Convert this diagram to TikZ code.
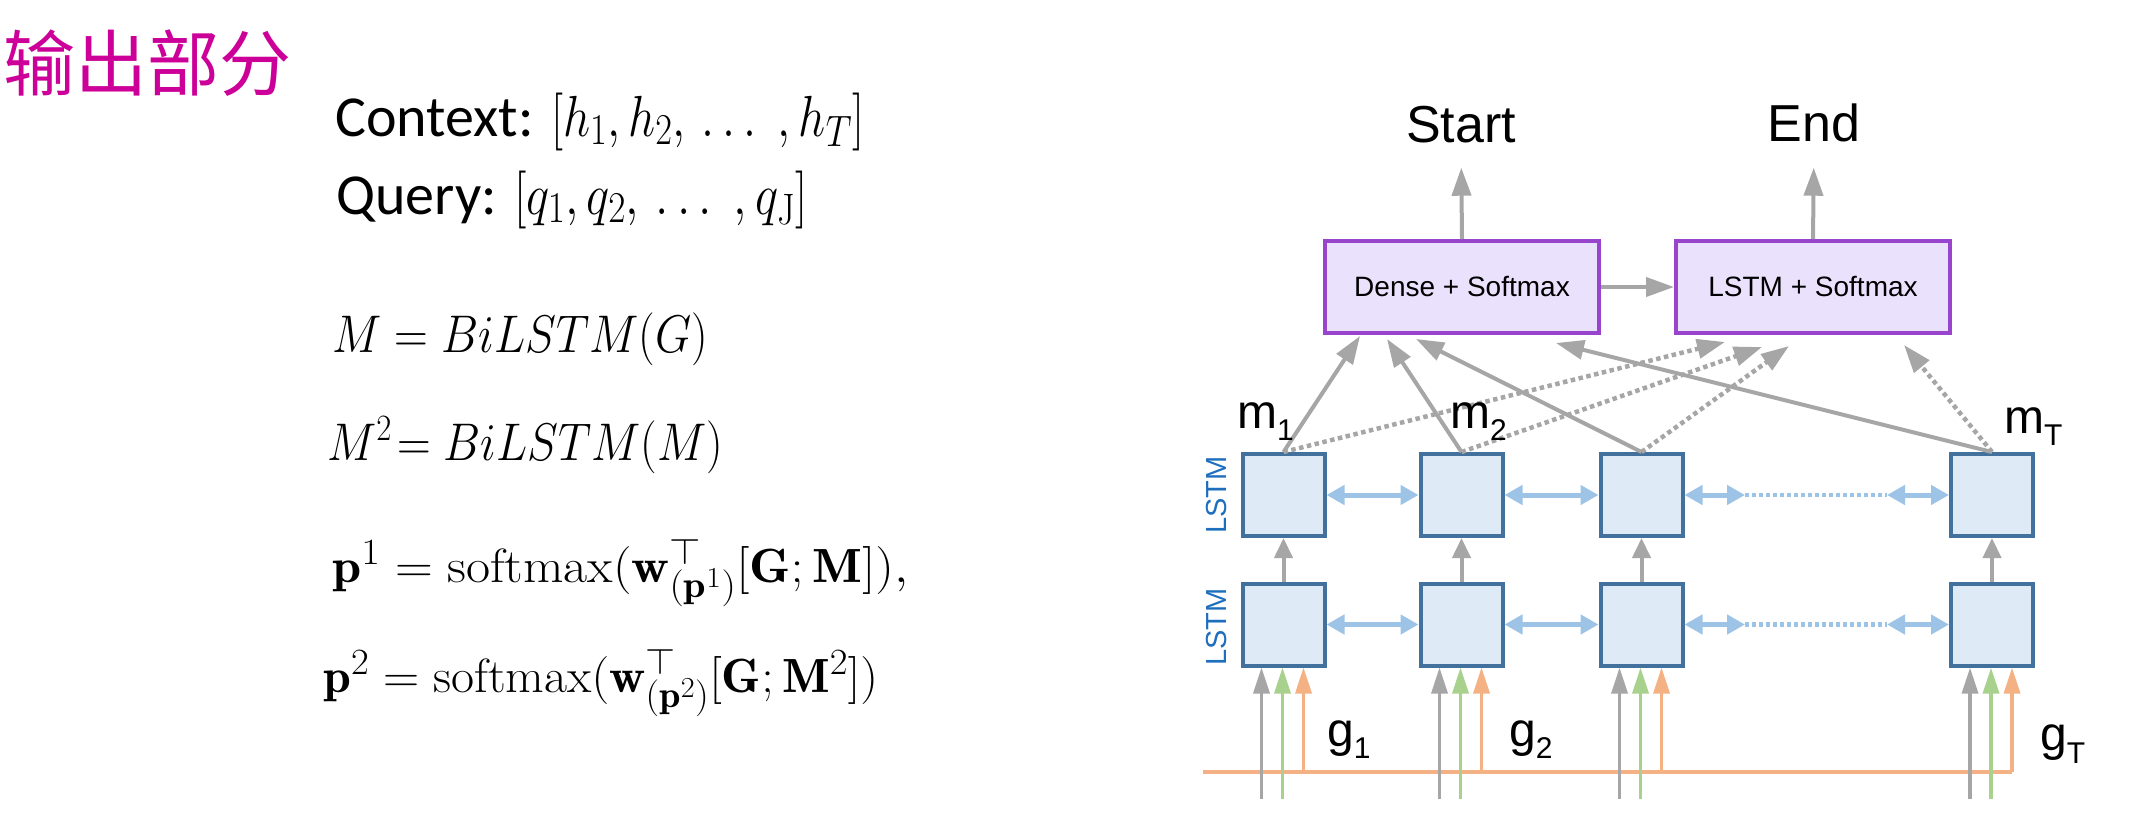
\RequirePackage{fix-cm}
\documentclass[tikz,border=0pt]{standalone}
\usepackage{amsmath}
\usepackage{graphicx}
\usepackage{fontspec}
\newfontfamily\cjk{Noto Sans CJK SC}
\newfontfamily\calib{Carlito}
\newfontfamily\hel{Liberation Sans}
\usetikzlibrary{arrows.meta,calc}
\DeclareMathSizes{48}{48}{37}{29}
\DeclareMathSizes{58}{58}{44}{34}
\definecolor{titlemag}{RGB}{204,0,153}
\definecolor{arrgray}{RGB}{166,166,166}
\definecolor{ingreen}{RGB}{169,209,142}
\definecolor{inorange}{RGB}{244,177,131}
\definecolor{lblue}{RGB}{157,195,230}
\definecolor{cellborder}{RGB}{65,113,156}
\definecolor{cellfill}{RGB}{222,235,247}
\definecolor{pborder}{RGB}{153,68,204}
\definecolor{pfill}{RGB}{234,225,253}
\definecolor{lstmblue}{RGB}{30,110,190}
\tikzset{
  cell/.style={draw=cellborder, fill=cellfill, line width=4pt, minimum width=82pt, minimum height=82pt, inner sep=0pt},
  pbox/.style={draw=pborder, fill=pfill, line width=4pt, minimum width=274pt, minimum height=92pt, inner sep=0pt, font=\hel\fontsize{28}{30}\selectfont},
  garrow/.style={draw=arrgray, line width=4pt, -{Triangle[length=28pt,width=19pt]}},
  gdot/.style={draw=arrgray, line width=4.5pt, dash pattern=on 4.5pt off 3.5pt, -{Triangle[length=28pt,width=19pt]}},
  uparrow/.style={draw=arrgray, line width=4pt, -{Triangle[length=20pt,width=18pt]}},
  barrow/.style={draw=lblue, line width=5pt, {Triangle[length=18pt,width=19pt]}-{Triangle[length=18pt,width=19pt]}},
  bdot/.style={draw=lblue, line width=4.5pt, dash pattern=on 4pt off 3pt},
  inarrow/.style={line width=3.5pt, -{Triangle[length=26pt,width=16pt]}},
  lbl/.style={anchor=base west, inner sep=0pt, font=\hel\fontsize{48}{50}\selectfont},
  txt/.style={anchor=base west, inner sep=0pt},
  lstmlab/.style={rotate=90, inner sep=0pt, text=lstmblue, font=\hel\fontsize{29}{30}\selectfont}
}
\newcommand{\subsc}[2][12pt]{\raisebox{-#1}{\fontsize{30}{30}\selectfont #2}}
\begin{document}
\begin{tikzpicture}[x=1pt,y=-1pt]
\useasboundingbox (0,0) rectangle (2135,830);

% ---------- left text ----------
\node[txt, text=titlemag] (title) at (3,90) {\cjk\fontsize{72}{80}\selectfont 输出部分};
\node[txt] (ctx) at (335,136) {\calib\fontsize{58}{64}\selectfont Context: \resizebox{313pt}{\height}{$[h_1,h_2,\,\dots\;,h_T]$}};
\node[txt] (qry) at (336,214) {\calib\fontsize{58}{64}\selectfont Query: \resizebox{293pt}{\height}{$[q_1,q_2,\,\dots\;,q_{\mathrm{J}}]$}};
\node[txt] (eqm) at (332,352) {\fontsize{53}{58}\selectfont \resizebox{376pt}{\height}{$M = BiLSTM(G)$}};
\node[txt] (eqm2) at (327,460) {\fontsize{53}{58}\selectfont \resizebox{396pt}{\height}{$M^2\!= BiLSTM(M)$}};
\node[txt] (eqp1) at (332,582) {\fontsize{48}{54}\selectfont \resizebox{576pt}{\height}{$\mathbf{p}^1 = \mathrm{softmax}(\mathbf{w}^\top_{(\mathbf{p}^1)}[\mathbf{G};\mathbf{M}]),$}};
\node[txt] (eqp2) at (323,692) {\fontsize{48}{54}\selectfont \resizebox{555pt}{\height}{$\mathbf{p}^2 = \mathrm{softmax}(\mathbf{w}^\top_{(\mathbf{p}^2)}[\mathbf{G};\mathbf{M}^2])$}};

% ---------- diagram ----------
\node[anchor=base, inner sep=0pt, font=\hel\fontsize{52}{56}\selectfont] (start) at (1461,142) {Start};
\node[anchor=base, inner sep=0pt, font=\hel\fontsize{52}{56}\selectfont] (end) at (1814,141) {End};

\node[pbox] (dense) at (1462,287) {Dense + Softmax};
\node[pbox] (lsm) at (1813,287) {LSTM + Softmax};

\draw[garrow, shorten >=25pt] (dense.north) -- (start.south);
\draw[garrow, shorten >=26pt] (lsm.north) -- (end.south);
\draw[garrow] (dense.east) -- (lsm.west);

\foreach \i/\cx in {1/1283.5,2/1461.5,3/1641.5,4/1992}{
  \node[cell] (u\i) at (\cx,495) {};
  \node[cell] (l\i) at (\cx,624.5) {};
  \draw[uparrow] (l\i.north) -- (u\i.south);
  \coordinate (gs\i) at (\cx-22,799);
  \coordinate (ns\i) at (\cx-1,799);
  \coordinate (os\i) at (\cx+20,772);
}

\node[lstmlab] (lab1) at (1216,495) {LSTM};
\node[lstmlab] (lab2) at (1216,627) {LSTM};

% horizontal bidirectional links
\draw[barrow] (u1.east) -- (u2.west);
\draw[barrow] (u2.east) -- (u3.west);
\draw[barrow] (l1.east) -- (l2.west);
\draw[barrow] (l2.east) -- (l3.west);
\coordinate (ua) at (1745,495);
\coordinate (ub) at (1887,495);
\coordinate (la) at (1745,624.5);
\coordinate (lb) at (1887,624.5);
\draw[bdot] (ua) -- (ub);
\draw[bdot] (la) -- (lb);
\draw[barrow] (u3.east) -- (ua);
\draw[barrow] (ub) -- (u4.west);
\draw[barrow] (l3.east) -- (la);
\draw[barrow] (lb) -- (l4.west);

% inputs
\coordinate (oleft) at (1203,772);
\draw[draw=inorange, line width=4.5pt] (oleft) -- (os4);
\foreach \i in {1,2,3,4}{
  \draw[inarrow, draw=arrgray] (gs\i) -- (gs\i |- l\i.south);
  \draw[inarrow, draw=ingreen] (ns\i) -- (ns\i |- l\i.south);
  \draw[inarrow, draw=inorange] (os\i) -- (os\i |- l\i.south);
}

% connections to output boxes
\coordinate (d1) at (1360,336);
\coordinate (d2) at (1387,339);
\coordinate (d3) at (1416,339);
\coordinate (d4) at (1556,343);
\coordinate (e1) at (1725,342);
\coordinate (e2) at (1762,347);
\coordinate (e3) at (1789,346);
\coordinate (e4) at (1904,345);
\draw[gdot] (u1.north) -- (e1);
\draw[gdot] (u2.north) -- (e2);
\draw[gdot] (u3.north) -- (e3);
\draw[gdot] (u4.north) -- (e4);
\draw[garrow] (u1.north) -- (d1);
\draw[garrow] (u2.north) -- (d2);
\draw[garrow] (u3.north) -- (d3);
\draw[garrow] (u4.north) -- (d4);

% labels
\node[lbl] (m1) at (1237,428) {m\subsc{1}};
\node[lbl] (m2) at (1450,428) {m\subsc{2}};
\node[lbl] (mT) at (2004,433) {m\subsc{T}};
\node[lbl] (g1) at (1327,746) {g\subsc{1}};
\node[lbl] (g2) at (1509,746) {g\subsc{2}};
\node[lbl] (gT) at (2040,750) {g\subsc[13pt]{T}};
\end{tikzpicture}
\end{document}
